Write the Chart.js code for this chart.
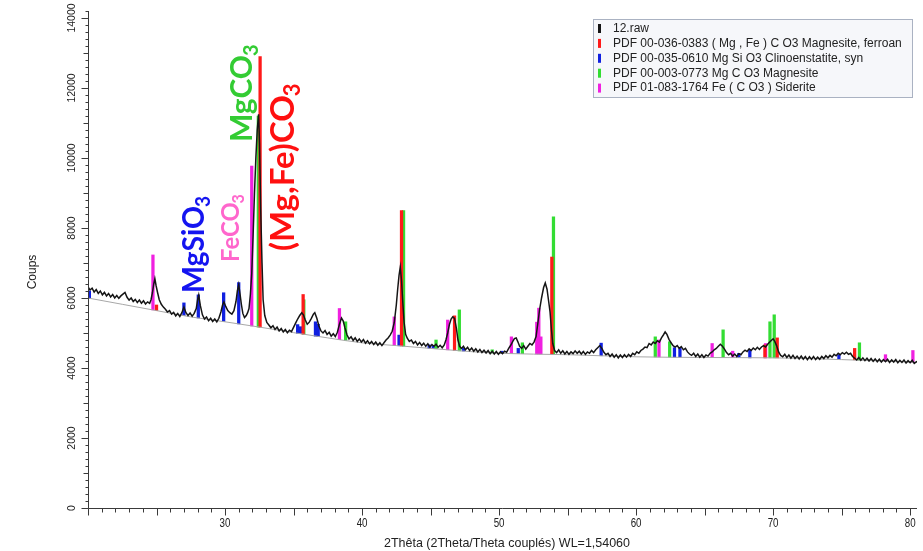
<!DOCTYPE html>
<html><head><meta charset="utf-8">
<script src="https://cdn.jsdelivr.net/npm/chart.js@4.4.0/dist/chart.umd.min.js"></script>
<style>html,body{margin:0;padding:0;background:#fff;overflow:hidden}canvas{display:block}</style>
</head><body>
<canvas id="c" width="923" height="551"></canvas>
<script>
// ---- DATA ----
// raw scan "12.raw": [2theta, counts]
const rawScan = [[20.0,6320],[20.15,6230],[20.3,6280],[20.45,6170],[20.6,6240],[20.75,6130],[20.9,6200],[21.05,6090],[21.2,6160],[21.35,6060],[21.5,6130],[21.65,6030],[21.8,6100],[21.95,6000],[22.1,6070],[22.25,5990],[22.4,6060],[22.55,6110],[22.7,6160],[22.85,6020],[23.0,5940],[23.15,6000],[23.3,5900],[23.45,5960],[23.6,5870],[23.75,5940],[23.9,5850],[24.05,5920],[24.2,5830],[24.35,5890],[24.5,5850],[24.6,5950],[24.7,6150],[24.8,6400],[24.88,6550],[24.97,6350],[25.08,6150],[25.2,5950],[25.35,5820],[25.5,5740],[25.65,5680],[25.8,5600],[25.95,5640],[26.1,5540],[26.25,5590],[26.4,5490],[26.55,5560],[26.7,5470],[26.85,5580],[27.0,5740],[27.15,5580],[27.3,5500],[27.45,5570],[27.6,5480],[27.75,5560],[27.9,5700],[28.0,5950],[28.08,6080],[28.2,5780],[28.35,5520],[28.5,5400],[28.65,5460],[28.8,5350],[28.95,5420],[29.1,5330],[29.25,5400],[29.4,5320],[29.55,5420],[29.7,5600],[29.82,5800],[29.92,5890],[30.05,5760],[30.2,5640],[30.35,5580],[30.5,5540],[30.65,5640],[30.8,5900],[30.9,6200],[31.0,6380],[31.1,6100],[31.2,5800],[31.3,5560],[31.42,5440],[31.55,5500],[31.65,5580],[31.75,5700],[31.85,6100],[31.95,6700],[32.05,7800],[32.15,9000],[32.25,10000],[32.35,10800],[32.45,11250],[32.52,10400],[32.6,8600],[32.7,7000],[32.78,5950],[32.9,5500],[33.05,5300],[33.2,5230],[33.35,5150],[33.5,5210],[33.65,5100],[33.8,5170],[33.95,5060],[34.1,5130],[34.25,5030],[34.4,5100],[34.55,5010],[34.7,5080],[34.85,5040],[35.0,5160],[35.15,5280],[35.3,5400],[35.45,5500],[35.6,5580],[35.72,5520],[35.85,5380],[36.0,5250],[36.15,5310],[36.3,5420],[36.45,5540],[36.55,5580],[36.7,5420],[36.85,5200],[37.0,5060],[37.15,5000],[37.3,5070],[37.45,4960],[37.6,5020],[37.75,4910],[37.9,4980],[38.05,4900],[38.2,5020],[38.35,5250],[38.5,5430],[38.62,5350],[38.75,5150],[38.9,4950],[39.05,4830],[39.2,4890],[39.35,4790],[39.5,4860],[39.65,4760],[39.8,4830],[39.95,4740],[40.1,4810],[40.25,4710],[40.4,4780],[40.55,4690],[40.7,4760],[40.85,4670],[41.0,4740],[41.15,4650],[41.3,4720],[41.45,4640],[41.6,4720],[41.75,4800],[41.9,4860],[42.05,4940],[42.2,5050],[42.35,5300],[42.5,5800],[42.6,6250],[42.7,6650],[42.79,6880],[42.88,6500],[42.97,5900],[43.07,5300],[43.18,4960],[43.3,4850],[43.45,4760],[43.6,4800],[43.75,4700],[43.9,4760],[44.05,4660],[44.2,4730],[44.35,4640],[44.5,4710],[44.65,4620],[44.8,4690],[44.95,4600],[45.1,4670],[45.25,4620],[45.4,4680],[45.55,4590],[45.7,4650],[45.85,4580],[46.0,4660],[46.12,4800],[46.25,5000],[46.38,5250],[46.5,5400],[46.62,5460],[46.75,5420],[46.88,5150],[47.0,4800],[47.12,4620],[47.25,4560],[47.4,4620],[47.55,4520],[47.7,4590],[47.85,4500],[48.0,4570],[48.15,4480],[48.3,4550],[48.45,4460],[48.6,4530],[48.75,4440],[48.9,4510],[49.05,4430],[49.2,4500],[49.35,4410],[49.5,4480],[49.65,4400],[49.8,4470],[49.95,4390],[50.1,4460],[50.25,4410],[50.4,4480],[50.55,4450],[50.7,4560],[50.85,4650],[51.0,4760],[51.12,4840],[51.25,4860],[51.38,4740],[51.5,4620],[51.65,4560],[51.8,4640],[51.95,4540],[52.1,4620],[52.25,4700],[52.4,4660],[52.55,4740],[52.7,4900],[52.82,5250],[52.95,5650],[53.1,6000],[53.25,6300],[53.37,6430],[53.5,6250],[53.62,5900],[53.72,5600],[53.82,5100],[53.92,4700],[54.05,4500],[54.2,4440],[54.35,4520],[54.5,4420],[54.65,4490],[54.8,4400],[54.95,4470],[55.1,4390],[55.25,4460],[55.4,4410],[55.55,4490],[55.7,4420],[55.85,4480],[56.0,4400],[56.15,4470],[56.3,4390],[56.45,4460],[56.6,4420],[56.75,4500],[56.9,4440],[57.05,4520],[57.2,4580],[57.35,4640],[57.5,4560],[57.65,4450],[57.8,4380],[57.95,4420],[58.1,4330],[58.25,4400],[58.4,4310],[58.55,4380],[58.7,4290],[58.85,4370],[59.0,4300],[59.15,4380],[59.3,4310],[59.45,4390],[59.6,4330],[59.75,4420],[59.9,4380],[60.05,4460],[60.2,4420],[60.35,4500],[60.5,4540],[60.65,4600],[60.8,4580],[60.95,4700],[61.1,4660],[61.25,4740],[61.4,4700],[61.55,4780],[61.7,4740],[61.85,4860],[62.0,4950],[62.12,5030],[62.25,4960],[62.4,4820],[62.55,4720],[62.7,4640],[62.85,4600],[63.0,4640],[63.15,4560],[63.3,4610],[63.45,4520],[63.6,4560],[63.75,4460],[63.9,4400],[64.05,4360],[64.2,4420],[64.35,4330],[64.5,4400],[64.65,4310],[64.8,4380],[64.95,4300],[65.1,4370],[65.25,4340],[65.4,4420],[65.55,4460],[65.7,4520],[65.85,4560],[66.0,4620],[66.15,4680],[66.3,4620],[66.45,4540],[66.6,4440],[66.75,4380],[66.9,4420],[67.05,4340],[67.2,4400],[67.35,4330],[67.5,4410],[67.65,4380],[67.8,4460],[67.95,4510],[68.1,4470],[68.25,4550],[68.4,4500],[68.55,4570],[68.7,4520],[68.85,4590],[69.0,4530],[69.15,4600],[69.3,4640],[69.45,4600],[69.6,4680],[69.75,4740],[69.9,4800],[70.0,4830],[70.12,4760],[70.25,4640],[70.4,4460],[70.55,4360],[70.7,4320],[70.85,4390],[71.0,4300],[71.15,4370],[71.3,4280],[71.45,4360],[71.6,4270],[71.75,4340],[71.9,4260],[72.05,4340],[72.2,4250],[72.35,4330],[72.5,4240],[72.65,4320],[72.8,4250],[72.95,4330],[73.1,4240],[73.25,4310],[73.4,4250],[73.55,4330],[73.7,4270],[73.85,4350],[74.0,4290],[74.15,4360],[74.3,4310],[74.45,4390],[74.6,4350],[74.75,4420],[74.9,4380],[75.05,4440],[75.2,4400],[75.35,4450],[75.5,4390],[75.65,4420],[75.8,4330],[75.95,4280],[76.1,4230],[76.25,4300],[76.4,4220],[76.55,4290],[76.7,4210],[76.85,4280],[77.0,4200],[77.15,4270],[77.3,4190],[77.45,4260],[77.6,4180],[77.75,4250],[77.9,4170],[78.05,4240],[78.2,4180],[78.35,4250],[78.5,4160],[78.65,4230],[78.8,4170],[78.95,4240],[79.1,4150],[79.25,4220],[79.4,4160],[79.55,4230],[79.7,4140],[79.85,4210],[80.0,4150],[80.15,4220],[80.3,4130],[80.5,4190]];

// fitted background: [2theta, counts]
const background = [[20,6000],[22.5,5820],[25,5640],[27.5,5460],[30,5320],[32.5,5170],[35,5010],[37.5,4860],[40,4720],[42.5,4640],[45,4560],[47.5,4480],[50,4420],[55,4380],[60,4320],[65,4300],[70,4290],[75,4240],[80.5,4160]];

// reference sticks: [2theta, base counts, top counts]
const sticksMagnesiteFerroan = [[25.0,5640,5800],[32.56,5165,12900],[35.7,4965,6100],[42.88,4630,8500],[46.75,4500,5490],[53.85,4390,7170],[69.4,4290,4660],[70.3,4290,4860],[75.95,4235,4560]];
const sticksClinoenstatite = [[20.1,5990,6200],[27.0,5500,5860],[28.05,5430,6090],[29.9,5330,6150],[31.0,5260,6440],[35.3,4990,5240],[35.5,4980,5180],[36.6,4910,5320],[36.8,4900,5250],[42.7,4635,4940],[44.9,4565,4660],[45.2,4555,4640],[47.4,4485,4560],[50.2,4420,4480],[51.4,4415,4560],[57.45,4350,4710],[62.8,4310,4580],[63.2,4310,4560],[67.5,4295,4420],[68.3,4290,4520],[74.8,4245,4380]];
const sticksMagnesite = [[32.43,5170,11200],[35.75,4965,5950],[38.8,4790,5320],[43.03,4625,8500],[45.4,4550,4800],[47.1,4490,5660],[49.5,4430,4520],[51.7,4410,4720],[53.97,4390,8320],[61.4,4315,4890],[62.45,4310,4750],[66.35,4300,5090],[69.77,4290,5320],[70.08,4290,5520],[76.3,4225,4720]];
const sticksSiderite = [[24.74,5660,7230],[31.95,5200,9770],[38.35,4810,5700],[42.35,4645,5460],[46.25,4520,5370],[50.9,4415,4890],[52.75,4400,5310],[52.9,4400,5710],[53.05,4400,4890],[61.67,4315,4800],[65.55,4300,4700],[67.05,4295,4480],[69.45,4290,4700],[78.2,4200,4380],[80.2,4165,4500]];

const legendLabels = ['12.raw','PDF 00-036-0383 ( Mg , Fe ) C O3 Magnesite, ferroan','PDF 00-035-0610 Mg Si O3 Clinoenstatite, syn','PDF 00-003-0773 Mg C O3 Magnesite','PDF 01-083-1764 Fe ( C O3 ) Siderite'];
const phaseNames = ['MgSiO','FeCO','MgCO','(Mg,Fe)CO'];
const phaseSub = ['3','3','3','3'];
const xTickLabels = [30,40,50,60,70,80];
const yTickLabels = [0,2000,4000,6000,8000,10000,12000,14000];
const xTitle = '2Thêta (2Theta/Theta couplés) WL=1,54060';
const yTitle = 'Coups';

// ---- STYLE / LAYOUT ----
const COLORS = {raw:'#151515', bg:'#a8a8a8', red:'#ff1a1a', blue:'#1020e0', green:'#33dd33', pink:'#f020e0'};
const phaseStyle = [
  {x:28.47, y:6143, color:'#1414f0', size:30, sx:0.95},
  {x:31.02, y:7029, color:'#ff66cc', size:25, sx:0.95},
  {x:31.95, y:10457, color:'#33cc33', size:30, sx:1.0},
  {x:35.0, y:7340, color:'#ff1010', size:33, sx:1.0}
];
const SANS = "'Liberation Sans',Arial,sans-serif";

const toXY = arr => arr.map(p => ({x:p[0], y:p[1]}));
const toStick = arr => arr.map(p => ({x:p[0], y:[p[1], p[2]]}));
const stickDs = (label, arr, color) => ({type:'bar', label, data:toStick(arr), backgroundColor:color, borderWidth:0, barThickness:2.6, grouped:false});

const bgPlugin = {id:'bgfill', beforeDraw(c){const x=c.ctx; x.save(); x.fillStyle='#fff'; x.fillRect(0,0,c.width,c.height); x.restore();}};

const decorPlugin = {
  id:'decor',
  afterDraw(chart){
    const ctx = chart.ctx, a = chart.chartArea, sx = chart.scales.x, sy = chart.scales.y;
    ctx.save();
    ctx.strokeStyle = '#3a3a3a'; ctx.lineWidth = 1;
    const seg = (x1,y1,x2,y2)=>{ctx.beginPath(); ctx.moveTo(x1,y1); ctx.lineTo(x2,y2); ctx.stroke();};
    const narrow = (t, x, y, w) => { const m = ctx.measureText(t).width; ctx.save(); ctx.translate(x, y); ctx.scale(w/m, 1); ctx.fillText(t, 0, 0); ctx.restore(); };
    const L = Math.round(a.left)+0.5, B = Math.round(a.bottom)+0.5;
    seg(L, a.top, L, B); seg(L, B, a.right, B);
    for (let v = 0; v <= sy.max; v += 200) {
      const p = Math.round(sy.getPixelForValue(v))+0.5;
      const len = v % 2000 === 0 ? 7 : (v % 1000 === 0 ? 5 : 3);
      seg(L-len, p, L, p);
    }
    for (let d = Math.ceil(sx.min); d <= sx.max; d += 1) {
      const p = Math.round(sx.getPixelForValue(d))+0.5;
      const len = d % 5 === 0 ? 7 : 4;
      seg(p, B, p, B+len);
    }
    ctx.fillStyle = '#222';
    ctx.font = "10.5px " + SANS;
    ctx.textAlign = 'center'; ctx.textBaseline = 'middle';
    yTickLabels.forEach(v => {
      const p = sy.getPixelForValue(v);
      ctx.save(); ctx.translate(72, p); ctx.rotate(-Math.PI/2); ctx.fillText(String(v), 0, 0); ctx.restore();
    });
    ctx.font = "12px " + SANS;
    ctx.save(); ctx.translate(33, 272); ctx.rotate(-Math.PI/2); ctx.fillText(yTitle, 0, 0); ctx.restore();
    ctx.font = "12.5px " + SANS;
    xTickLabels.forEach(v => { const t = String(v); narrow(t, sx.getPixelForValue(v), 524, ctx.measureText(t).width*0.78); });
    ctx.font = "13.5px " + SANS;
    narrow(xTitle, 507, 543, 246);

    phaseNames.forEach((t, i) => {
      const s = phaseStyle[i];
      const px = sx.getPixelForValue(s.x), py = sy.getPixelForValue(s.y);
      ctx.save(); ctx.translate(px, py); ctx.rotate(-Math.PI/2); ctx.scale(s.sx, 1);
      ctx.fillStyle = s.color; ctx.textAlign = 'left'; ctx.textBaseline = 'alphabetic';
      ctx.font = `bold ${s.size}px Lato, 'Open Sans', sans-serif`;
      ctx.fillText(t, 0, 0);
      const w = ctx.measureText(t).width;
      ctx.font = `bold ${Math.round(s.size*0.66)}px Lato, 'Open Sans', sans-serif`;
      ctx.fillText(phaseSub[i], w - 1, s.size*0.2);
      ctx.restore();
    });

    const bx = 593, by = 19, bw = 319, bh = 78;
    ctx.fillStyle = '#f6f7fa'; ctx.fillRect(bx, by, bw, bh);
    ctx.strokeStyle = '#aab2c2'; ctx.strokeRect(bx+0.5, by+0.5, bw, bh);
    const legColors = [COLORS.raw, COLORS.red, COLORS.blue, COLORS.green, COLORS.pink];
    ctx.font = "12px " + SANS;
    ctx.textAlign = 'left'; ctx.textBaseline = 'middle';
    legendLabels.forEach((t, i) => {
      const yy = 28 + i*14.9;
      ctx.fillStyle = legColors[i]; ctx.fillRect(598, yy-4, 3, 9);
      ctx.fillStyle = '#222'; ctx.fillText(t, 613, yy+0.5);
    });
    ctx.restore();
  }
};

new Chart(document.getElementById('c'), {
  type: 'line',
  data: {
    datasets: [
      {type:'line', label: legendLabels[0], data: toXY(rawScan), borderColor: COLORS.raw, borderWidth: 1.5, pointRadius: 0, tension: 0},
      {type:'line', label: 'background', data: toXY(background), borderColor: COLORS.bg, borderWidth: 1, pointRadius: 0, cubicInterpolationMode: 'monotone'},
      stickDs(legendLabels[1], sticksMagnesiteFerroan, COLORS.red),
      stickDs(legendLabels[3], sticksMagnesite, COLORS.green),
      stickDs(legendLabels[4], sticksSiderite, COLORS.pink),
      stickDs(legendLabels[2], sticksClinoenstatite, COLORS.blue)
    ]
  },
  options: {
    responsive: false, animation: false, devicePixelRatio: 1,
    layout: {padding: {left: 88, right: 6, top: 11, bottom: 43}},
    plugins: {legend: {display: false}, tooltip: {enabled: false}},
    scales: {
      x: {type: 'linear', min: 20, max: 80.5, offset: false, display: false, grid: {offset: false}},
      y: {type: 'linear', min: 0, max: 14200, display: false}
    }
  },
  plugins: [bgPlugin, decorPlugin]
});
</script>
</body></html>
